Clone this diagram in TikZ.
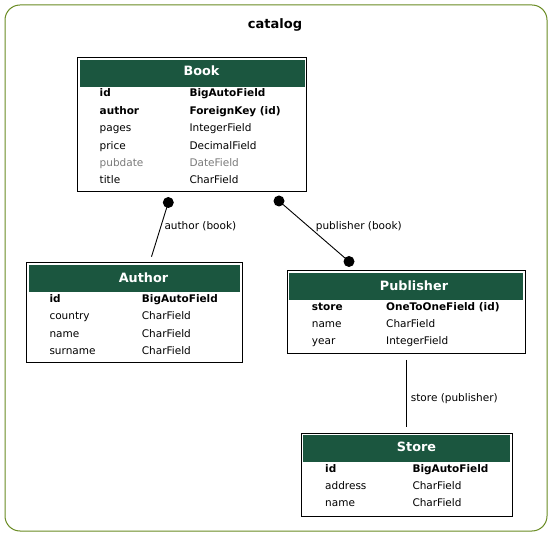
\documentclass[tikz,border=0pt]{standalone}
\usepackage{fontspec}
\setmainfont{DejaVu Sans}
\usetikzlibrary{positioning, calc}
\definecolor{hdrgreen}{RGB}{27,86,63}
\definecolor{frameolive}{RGB}{105,139,34}
\definecolor{nullgray}{RGB}{123,123,123}
\tikzset{
  tablebox/.style={rectangle, draw=black, fill=white, line width=1pt, inner sep=0pt},
  hdrbox/.style={rectangle, fill=hdrgreen, inner sep=0pt},
  hdrtext/.style={anchor=base, inner sep=0pt, text=white,
    font=\fontsize{12.8}{15}\selectfont\bfseries},
  field/.style={anchor=base west, inner sep=0pt, font=\fontsize{10.5}{12}\selectfont},
  keyfield/.style={field, font=\fontsize{10.5}{12}\selectfont\bfseries},
  dimfield/.style={field, text=nullgray},
  rel/.style={line width=0.9pt, color=black},
  reldot/.style={circle, fill=black, minimum size=11pt, inner sep=0pt},
  rellabel/.style={anchor=base west, inner sep=0pt, font=\fontsize{10.5}{12}\selectfont}
}

\begin{document}
\begin{tikzpicture}[x=1pt, y=-1pt]
  \useasboundingbox (0,0) rectangle (552,537);

  % Draw App Frame
  \draw[frameolive, line width=1pt, rounded corners=15pt] (5,5) rectangle (547,531);
  \node[anchor=base, inner sep=0pt, font=\fontsize{13}{15}\selectfont\bfseries] (app) at (275,28.2) {catalog};

  % Draw Book Model
  \node[tablebox, minimum width=229pt, minimum height=134pt] (book) at (192,125) {};
  \node[hdrbox, minimum width=225pt, minimum height=27pt] (bookhdr) at (192,73.5) {};
  \node[hdrtext] (booktitle) at (201.5,75.7) {Book};
  \foreach \s/\f/\t [count=\k] in {keyfield/id/BigAutoField, keyfield/author/ForeignKey (id),
      field/pages/IntegerField, field/price/DecimalField, dimfield/pubdate/DateField, field/title/CharField}{
    \node[\s] (book-f\k) at (99.5,{96.7+17.45*(\k-1)}) {\f};
    \node[\s] (book-t\k) at (189.3,{96.7+17.45*(\k-1)}) {\t};
  }

  % Draw Author Model
  \node[tablebox, minimum width=215.5pt, minimum height=100pt] (author) at (134.25,312.5) {};
  \node[hdrbox, minimum width=211.5pt, minimum height=27pt] (authorhdr) at (134.25,278.3) {};
  \node[hdrtext] (authortitle) at (143.5,282.3) {Author};
  \foreach \s/\f/\t [count=\k] in {keyfield/id/BigAutoField, field/country/CharField,
      field/name/CharField, field/surname/CharField}{
    \node[\s] (author-f\k) at (49.3,{302.7+17.2*(\k-1)}) {\f};
    \node[\s] (author-t\k) at (141.7,{302.7+17.2*(\k-1)}) {\t};
  }

  % Draw Publisher Model
  \node[tablebox, minimum width=238pt, minimum height=83pt] (publisher) at (406,312.5) {};
  \node[hdrbox, minimum width=234pt, minimum height=27pt] (publisherhdr) at (406,286.5) {};
  \node[hdrtext] (publishertitle) at (414,290.7) {Publisher};
  \foreach \s/\f/\t [count=\k] in {keyfield/store/OneToOneField (id), field/name/CharField,
      field/year/IntegerField}{
    \node[\s] (publisher-f\k) at (311.7,{310.7+16.7*(\k-1)}) {\f};
    \node[\s] (publisher-t\k) at (386,{310.7+16.7*(\k-1)}) {\t};
  }

  % Draw Store Model
  \node[tablebox, minimum width=211pt, minimum height=82.5pt] (store) at (406.5,474.75) {};
  \node[hdrbox, minimum width=207pt, minimum height=27pt] (storehdr) at (406.5,448.3) {};
  \node[hdrtext] (storetitle) at (416.5,451.7) {Store};
  \foreach \s/\f/\t [count=\k] in {keyfield/id/BigAutoField, field/address/CharField,
      field/name/CharField}{
    \node[\s] (store-f\k) at (325,{472.3+17.2*(\k-1)}) {\f};
    \node[\s] (store-t\k) at (412.3,{472.3+17.2*(\k-1)}) {\t};
  }

  % Relation: author (book)
  \node[reldot] (authordot) at (168.3,202.5) {};
  \coordinate (authorend) at (151.5,256.7);
  \draw[rel] (authordot.center) -- (authorend);
  \node[rellabel] (authorlbl) at (164.3,229.5) {author (book)};

  % Relation: publisher (book)
  \node[reldot] (pubdot1) at (279,201) {};
  \node[reldot] (pubdot2) at (349,261.5) {};
  \draw[rel] (pubdot1.center) -- (pubdot2.center);
  \node[rellabel] (publbl) at (315.7,229.5) {publisher (book)};

  % Relation: store (publisher)
  \coordinate (storestart) at (406.3,360);
  \coordinate (storeend) at (406.3,427.5);
  \draw[rel] (storestart) -- (storeend);
  \node[rellabel] (storelbl) at (410.7,401.5) {store (publisher)};
\end{tikzpicture}
\end{document}
